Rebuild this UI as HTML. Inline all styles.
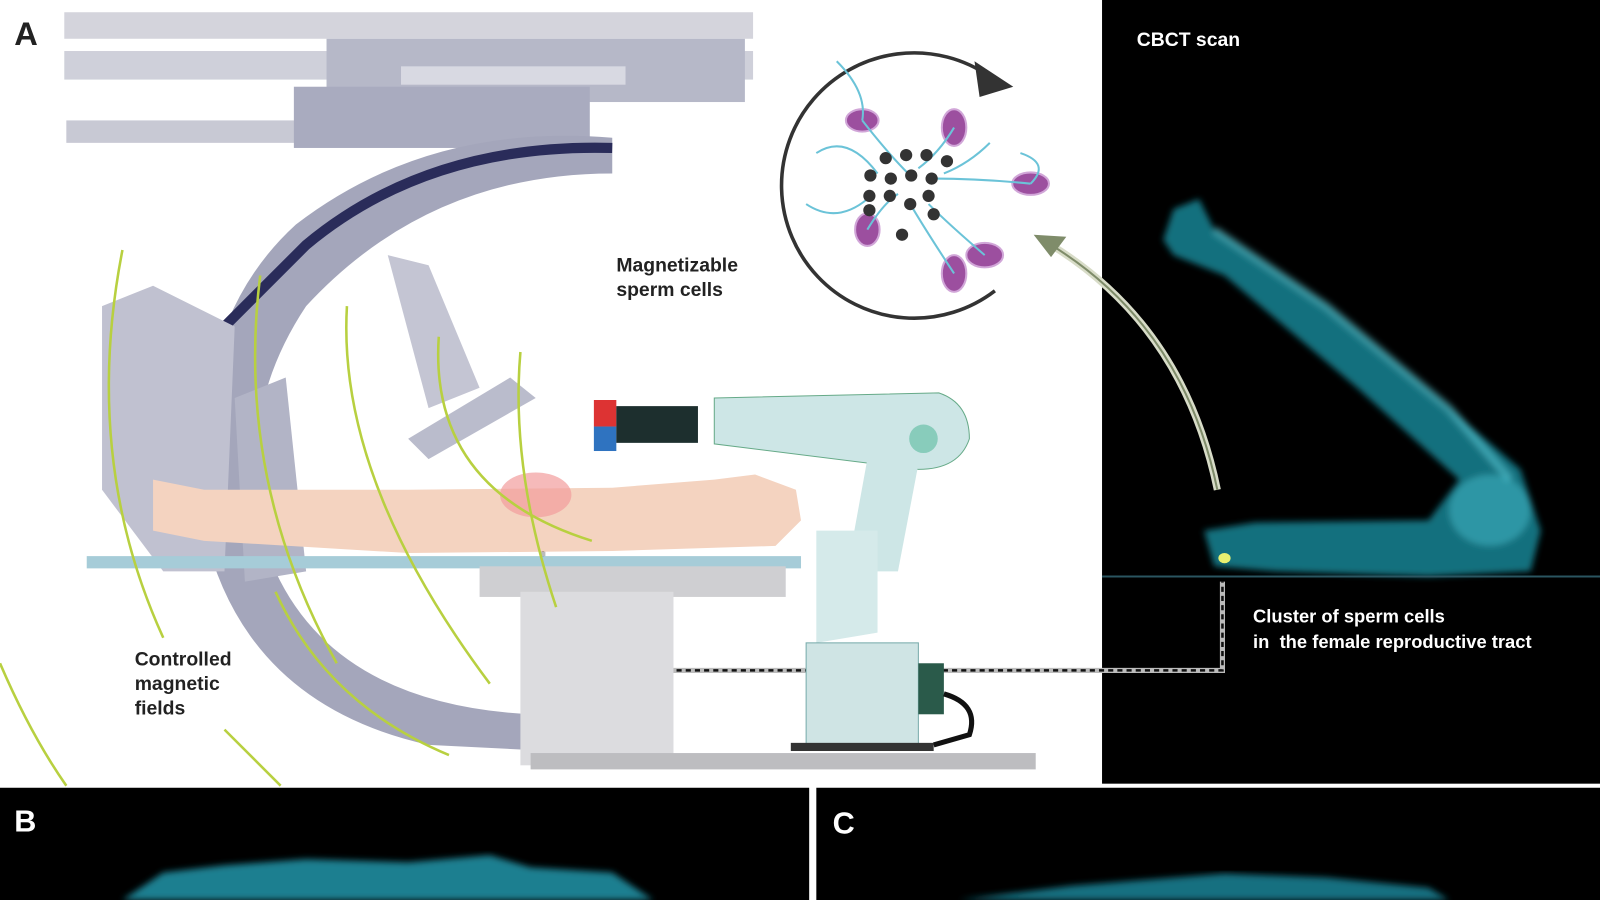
<!DOCTYPE html>
<html><head><style>html,body{margin:0;padding:0;background:#fff}svg{display:block}text{font-family:"Liberation Sans",sans-serif;font-weight:bold}</style></head><body>
<svg width="1600" height="900" viewBox="0 0 1568 882" preserveAspectRatio="none" xmlns="http://www.w3.org/2000/svg">
<defs><filter id="bl"><feGaussianBlur stdDeviation="3"/></filter></defs>
<rect width="1568" height="882" fill="#fff"/>
<rect x="1080" y="0" width="488" height="768" fill="#000"/>
<text x="1114" y="45" fill="#fff" font-size="19">CBCT scan</text>
<g filter="url(#bl)">
<path d="M1150 205 L1175 195 L1190 225 L1300 300 L1420 400 L1490 460 L1510 520 L1500 560 L1400 565 L1250 560 L1190 555 L1180 520 L1230 512 L1400 510 L1430 470 L1330 380 L1200 270 L1150 250 L1140 235 Z" fill="#1f9fb3" opacity="0.7"/>
<path d="M1190 225 L1300 300 L1420 400 L1480 470" stroke="#5fd3e0" stroke-width="8" fill="none" opacity="0.5"/>
<ellipse cx="1460" cy="500" rx="40" ry="35" fill="#4fd0e0" opacity="0.4"/>
</g>
<ellipse cx="1200" cy="547" rx="6" ry="5" fill="#e8f070"/>
<line x1="1080" y1="565" x2="1568" y2="565" stroke="#2a5560" stroke-width="2"/>
<text x="1228" y="610" fill="#fff" font-size="18">Cluster of sperm cells</text>
<text x="1228" y="635" fill="#fff" font-size="18" xml:space="preserve">in  the female reproductive tract</text>
<path d="M532 500 L532 657 L1198 657 L1198 570" stroke="#bbb" stroke-width="5" fill="none"/>
<path d="M532 500 L532 657 L1198 657 L1198 570" stroke="#111" stroke-width="2.5" stroke-dasharray="5,4" fill="none"/>
<path d="M1193 480 Q1160 320 1030 240" stroke="#d8dcc8" stroke-width="7" fill="none"/>
<path d="M1193 480 Q1160 320 1030 240" stroke="#7f8c6a" stroke-width="2" fill="none"/>
<polygon points="1013,230 1045,232 1030,252" fill="#7f8c6a"/>
<rect x="0" y="772" width="793" height="110" fill="#000"/>
<rect x="800" y="772" width="768" height="110" fill="#000"/>
<text x="14" y="815" fill="#fff" font-size="30">B</text>
<text x="816" y="817" fill="#fff" font-size="30">C</text>
<path d="M120 882 L160 855 L220 848 L300 842 L400 845 L480 838 L520 850 L600 855 L640 882 Z" fill="#1a7f90" filter="url(#bl)"/>
<path d="M940 882 L1050 868 L1200 856 L1300 860 L1400 870 L1420 882 Z" fill="#177080" filter="url(#bl)"/>
<text x="14" y="44" fill="#222" font-size="32">A</text>
<rect x="63" y="12" width="675" height="26" fill="#d4d4dc"/>
<rect x="63" y="50" width="675" height="28" fill="#cfd0da"/>
<rect x="320" y="38" width="410" height="62" fill="#b6b8c8"/>
<rect x="393" y="65" width="220" height="18" fill="#d8d9e2"/>
<rect x="65" y="118" width="260" height="22" fill="#c8c9d4"/>
<rect x="288" y="85" width="290" height="60" fill="#a9abbf"/>
<path d="M600 135 Q420 120 290 220 Q180 320 200 520 Q240 690 420 730 L520 735 L520 700 Q330 690 270 560 Q220 420 300 300 Q420 170 600 170 Z" fill="#a4a6bb"/>
<path d="M600 145 Q420 140 300 240 L210 330" stroke="#2a2c5a" stroke-width="10" fill="none"/>
<path d="M100 300 L150 280 L230 320 L220 560 L160 560 L100 480 Z" fill="#c0c1d0"/>
<path d="M230 390 L280 370 L300 560 L240 570 Z" fill="#b2b4c6"/>
<path d="M380 250 L420 260 L470 380 L420 400 Z" fill="#c4c5d3"/>
<path d="M400 430 L500 370 L525 390 L420 450 Z" fill="#babccc"/>
<rect x="85" y="545" width="700" height="12" fill="#a6ccd8"/>
<rect x="470" y="555" width="300" height="30" fill="#cfcfd2"/>
<rect x="510" y="580" width="150" height="170" fill="#dcdcdf"/>
<rect x="520" y="738" width="495" height="16" fill="#bdbdc0"/>
<path d="M150 470 L200 480 L400 480 L600 478 L700 470 L740 465 L780 480 L785 510 L760 535 L600 540 L400 542 L200 530 L150 520 Z" fill="#f4d3c0"/>
<ellipse cx="525" cy="485" rx="35" ry="22" fill="#f29c9c" opacity="0.7"/>
<g stroke="#b8d040" stroke-width="2.5" fill="none">
<path d="M120 245 Q80 450 160 625"/><path d="M255 270 Q230 470 330 650"/>
<path d="M340 300 Q330 470 480 670"/><path d="M430 330 Q420 480 580 530"/>
<path d="M510 345 Q500 460 545 595"/><path d="M0 650 Q30 720 65 770"/><path d="M220 715 Q250 745 275 770"/>
<path d="M270 580 Q320 690 440 740"/>
</g>
<text x="132" y="652" fill="#222" font-size="19">Controlled</text>
<text x="132" y="676" fill="#222" font-size="19">magnetic</text>
<text x="132" y="700" fill="#222" font-size="19">fields</text>
<text x="604" y="266" fill="#222" font-size="19">Magnetizable</text>
<text x="604" y="290" fill="#222" font-size="19">sperm cells</text>
<rect x="582" y="392" width="22" height="26" fill="#d33"/>
<rect x="582" y="418" width="22" height="24" fill="#2f73c0"/>
<rect x="604" y="398" width="80" height="36" fill="#1d2f2e"/>
<path d="M700 390 L920 385 Q950 395 950 430 Q940 460 900 460 L700 435 Z" fill="#cde6e6" stroke="#6a8" stroke-width="1"/>
<circle cx="905" cy="430" r="14" fill="#8cb"/>
<path d="M850 450 L900 455 L880 560 L830 560 Z" fill="#cde6e6"/>
<path d="M800 520 L860 520 L860 620 L800 630 Z" fill="#d5eaea"/>
<rect x="790" y="630" width="110" height="100" fill="#cfe4e4" stroke="#7aa" stroke-width="1"/>
<rect x="900" y="650" width="25" height="50" fill="#2a5a4a"/>
<path d="M925 680 Q960 690 950 720 L915 730" stroke="#111" stroke-width="5" fill="none"/>
<rect x="775" y="728" width="140" height="8" fill="#333"/>
<path d="M975 285 A130 130 0 1 1 970 75" stroke="#333" stroke-width="3.5" fill="none"/>
<polygon points="955,60 993,85 960,95" fill="#333"/>
<g fill="#9c4f9f" stroke="#d1a6d8" stroke-width="2">
<ellipse cx="845" cy="118" rx="16" ry="11"/><ellipse cx="935" cy="125" rx="12" ry="18"/>
<ellipse cx="1010" cy="180" rx="18" ry="11"/><ellipse cx="965" cy="250" rx="18" ry="12"/>
<ellipse cx="935" cy="268" rx="12" ry="18"/><ellipse cx="850" cy="225" rx="12" ry="16"/>
</g>
<g stroke="#6bc3d8" stroke-width="2" fill="none">
<path d="M845 118 Q870 150 890 170"/><path d="M935 125 Q920 150 900 165"/><path d="M1010 180 Q960 175 915 175"/>
<path d="M965 250 Q930 220 910 200"/><path d="M935 268 Q910 230 895 205"/><path d="M850 225 Q865 200 880 190"/>
<path d="M800 150 Q830 130 860 170"/><path d="M790 200 Q820 220 850 195"/><path d="M970 140 Q950 160 925 170"/>
<path d="M820 60 Q850 90 845 118"/><path d="M1000 150 Q1030 160 1010 180"/>
</g>
<g fill="#333">
<circle cx="868" cy="155" r="6"/><circle cx="888" cy="152" r="6"/><circle cx="908" cy="152" r="6"/><circle cx="928" cy="158" r="6"/>
<circle cx="853" cy="172" r="6"/><circle cx="873" cy="175" r="6"/><circle cx="893" cy="172" r="6"/><circle cx="913" cy="175" r="6"/>
<circle cx="852" cy="192" r="6"/><circle cx="872" cy="192" r="6"/><circle cx="892" cy="200" r="6"/><circle cx="910" cy="192" r="6"/>
<circle cx="852" cy="206" r="6"/><circle cx="915" cy="210" r="6"/><circle cx="884" cy="230" r="6"/>
</g>
</svg>
</body></html>
